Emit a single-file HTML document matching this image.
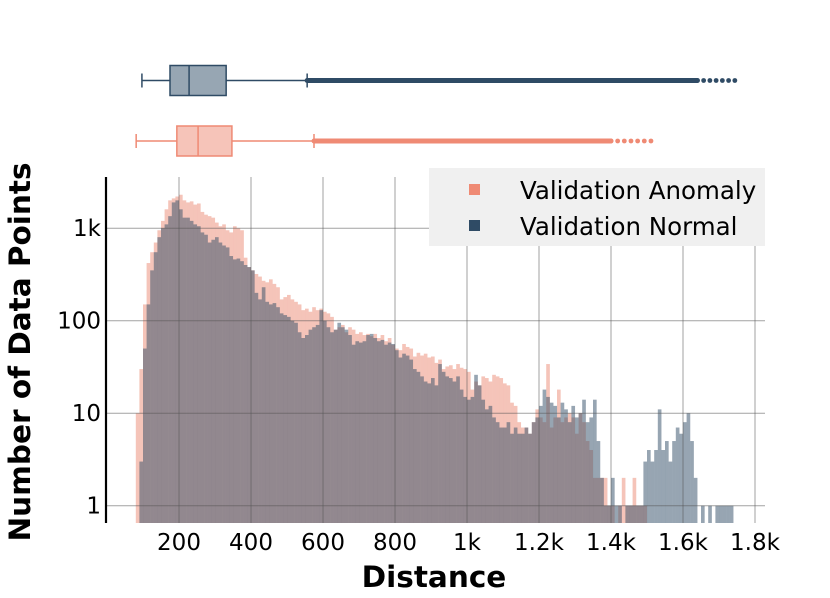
<!DOCTYPE html>
<html><head><meta charset="utf-8"><style>
html,body{margin:0;padding:0;background:#fff;}
svg{display:block;font-family:"DejaVu Sans","Liberation Sans",sans-serif;}
</style></head><body>
<svg id="chart" width="830" height="598" viewBox="0 0 830 598" xmlns="http://www.w3.org/2000/svg">
<g id="bars-anom"></g>
<g id="bars-norm"></g>
<g id="grid"></g>
<g id="box"></g>
<g id="axes"></g>
<text x="434" y="587" text-anchor="middle" font-size="29.5" font-weight="bold">Distance</text>
<text transform="translate(30,352) rotate(-90)" text-anchor="middle" font-size="29.5" font-weight="bold">Number of Data Points</text>
<g>
<rect x="429" y="168" width="336" height="78" fill="#f0f0f0"/>
<rect x="469" y="184" width="11" height="11" fill="#ef8a74"/>
<text x="520" y="199" font-size="24.5">Validation Anomaly</text>
<rect x="469" y="220" width="11" height="11" fill="#2f4b65"/>
<text x="520" y="235" font-size="24.5">Validation Normal</text>
</g>
</svg>
<script>
const binWidth = 10;
const anomStart = 80;
const anomCounts = [10,30,150,420,550,700,950,1200,1600,2000,
2100,2200,2300,2000,1900,1950,1800,1850,1500,1400,
1350,1300,1150,1050,1100,950,900,1050,1000,950,
480,380,350,320,300,270,260,280,250,230,
170,180,190,170,160,150,130,135,125,140,
130,135,125,120,110,80,85,90,75,85,
80,72,75,70,72,68,72,65,70,60,
65,55,50,48,56,52,50,41,45,42,
44,40,41,35,38,30,32,33,30,34,
31,30,28,18,22,20,25,24,22,26,
25,24,21,20,13,12,8,7,7,6,
8,11,9,8,34,7,9,18,8,9,
10,9,6,10,8,5,4,2,2,2,
2,1,1,0,1,2,1,1,2,1,
1,1];
const normStart = 90;
const normCounts = [3,50,150,350,550,800,1000,1100,1350,1900,
2000,1600,1300,1300,1200,1100,1050,900,850,700,
750,800,700,650,620,500,460,470,440,400,
380,350,200,170,230,160,150,155,140,120,
115,110,100,95,75,65,70,80,85,90,
130,100,85,75,80,95,85,80,70,55,
60,58,60,70,72,65,60,62,55,58,
56,48,40,44,42,38,30,28,25,22,
21,24,20,34,28,25,24,22,25,18,
15,14,15,26,20,14,11,12,9,8,
7,7,8,6,7,6,6,7,6,8,
9,12,18,15,13,12,9,13,11,8,
12,9,10,14,8,9,14,5,2,1,
1,2,1,1,0,1,1,1,1,1,
3,4,3,4,11,4,5,3,5,7,
6,8,10,5,2,0,1,0,1,0,
1,1,1,1,1];
const xTicks = [200,400,600,800,1000,1200,1400,1600,1800];
const xTickLabels = ["200","400","600","800","1k","1.2k","1.4k","1.6k","1.8k"];
const yTicks = [1,10,100,1000];
const yTickLabels = ["1","10","100","1k"];
// boxplot stats: [whiskerLo, q1, median, q3, whiskerHi, maxOutlier, denseOutlierEnd]
const normBox = [97,175,228,331,556,1744,1640];
const anomBox = [81,194,253,347,575,1511,1400];

const NS = "http://www.w3.org/2000/svg";
const X0 = 107, XS = 0.36;
const Y1 = 505.7, DEC = 92.5, YB = 523;
const xs = v => X0 + v * XS;
const ys = v => Y1 - Math.log10(v) * DEC;
function mk(tag, attrs, parent) {
  const e = document.createElementNS(NS, tag);
  for (const k in attrs) e.setAttribute(k, attrs[k]);
  parent.appendChild(e);
  return e;
}
function drawBars(gid, start, counts, color, name) {
  const g = document.getElementById(gid);
  counts.forEach((c, i) => {
    if (c <= 0) return;
    const x0 = xs(start + i * binWidth), x1 = xs(start + (i + 1) * binWidth);
    const y = ys(c);
    const r = mk('rect', {x: x0, y: y, width: x1 - x0 + 0.05, height: YB - y, fill: color, 'fill-opacity': 0.5}, g);
    
    
  });
}
drawBars('bars-anom', anomStart, anomCounts, '#ec8a73', 'anomaly-bar');
drawBars('bars-norm', normStart, normCounts, '#2f4b65', 'normal-bar');

const grid = document.getElementById('grid');
xTicks.forEach(t => {
  const l = mk('line', {x1: xs(t), x2: xs(t), y1: 177, y2: YB, stroke: '#555', 'stroke-opacity': 0.55, 'stroke-width': 1}, grid);
  
  
});
yTicks.forEach(t => {
  const l = mk('line', {x1: 107, x2: 765, y1: ys(t), y2: ys(t), stroke: '#555', 'stroke-opacity': 0.55, 'stroke-width': 1}, grid);
  
  
});

const axes = document.getElementById('axes');
const spine = mk('line', {x1: 106, x2: 106, y1: 177, y2: YB, stroke: '#000', 'stroke-width': 2.2}, axes);


xTicks.forEach((t, i) => {
  const tx = mk('text', {x: xs(t), y: 550, 'text-anchor': 'middle', 'font-size': 23}, axes);
  tx.textContent = xTickLabels[i];
  
  
});
yTicks.forEach((t, i) => {
  const tx = mk('text', {x: 101, y: ys(t) + 8, 'text-anchor': 'end', 'font-size': 23}, axes);
  tx.textContent = yTickLabels[i];
  
  
});

function drawBox(stats, cy, h, stroke, fill, name) {
  const g = mk('g', {}, document.getElementById('box'));
  
  
  const [wl, q1, med, q3, wh, mx, dense] = stats;
  mk('line', {x1: xs(wl), x2: xs(q1), y1: cy, y2: cy, stroke: stroke, 'stroke-width': 1.5}, g);
  mk('line', {x1: xs(q3), x2: xs(wh), y1: cy, y2: cy, stroke: stroke, 'stroke-width': 1.5}, g);
  mk('line', {x1: xs(wl), x2: xs(wl), y1: cy - 7, y2: cy + 7, stroke: stroke, 'stroke-width': 1.5}, g);
  mk('line', {x1: xs(wh), x2: xs(wh), y1: cy - 7, y2: cy + 7, stroke: stroke, 'stroke-width': 1.5}, g);
  mk('rect', {x: xs(q1), y: cy - h / 2, width: xs(q3) - xs(q1), height: h, fill: fill, stroke: stroke, 'stroke-width': 1.5}, g);
  mk('line', {x1: xs(med), x2: xs(med), y1: cy - h / 2, y2: cy + h / 2, stroke: stroke, 'stroke-width': 1.5}, g);
  mk('line', {x1: xs(wh), x2: xs(dense), y1: cy, y2: cy, stroke: stroke, 'stroke-width': 5, 'stroke-linecap': 'round'}, g);
  const n = 6;
  for (let i = 0; i <= n; i++) {
    const v = dense + (mx - dense) * i / n;
    mk('circle', {cx: xs(v), cy: cy, r: 2.4, fill: stroke}, g);
  }
}
drawBox(normBox, 80.5, 30, '#2f4b65', '#97a6b3', 'normal-boxplot');
drawBox(anomBox, 141, 30, '#ef8a74', '#f6c4b9', 'anomaly-boxplot');
</script>
</body></html>
